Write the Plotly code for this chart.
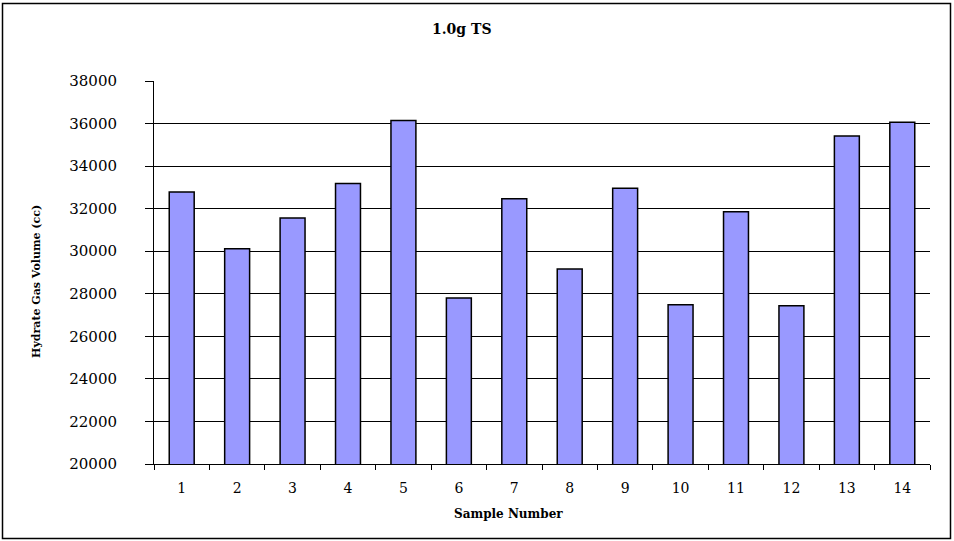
import plotly.graph_objects as go

# Hydrate gas volume per sample (1.0 g TS)
samples = [str(i) for i in range(1, 15)]
gas_volume_cc = [32780, 30120, 31560, 33180, 36140, 27800, 32470,
                 29170, 32960, 27480, 31860, 27440, 35420, 36060]
y_ticks = [20000, 22000, 24000, 26000, 28000, 30000, 32000, 34000, 36000, 38000]

SERIF = "DejaVu Serif"

fig = go.Figure(
    go.Bar(
        x=samples,
        y=gas_volume_cc,
        marker=dict(color="#9999FF", line=dict(color="black", width=1.5)),
        showlegend=False,
    )
)

fig.update_layout(
    width=954,
    height=541,
    margin=dict(l=154, r=24, t=81, b=77),
    paper_bgcolor="white",
    plot_bgcolor="white",
    bargap=0.55,
    font=dict(family=SERIF, color="black"),
    xaxis=dict(
        type="category",
        tickson="boundaries",
        ticks="outside",
        ticklen=5,
        tickcolor="black",
        showline=True,
        linecolor="black",
        linewidth=1,
        showgrid=False,
        tickfont=dict(family=SERIF, size=14),
        ticklabelstandoff=11,
        fixedrange=True,
    ),
    yaxis=dict(
        range=[20000, 38000],
        tickvals=y_ticks,
        tickformat="d",
        ticks="outside",
        ticklen=8,
        tickcolor="black",
        showline=True,
        linecolor="black",
        linewidth=1,
        showgrid=True,
        gridcolor="black",
        gridwidth=1,
        zeroline=False,
        tickfont=dict(family=SERIF, size=15),
        ticklabelstandoff=25,
        fixedrange=True,
    ),
    annotations=[
        dict(text="<b>1.0g TS</b>", x=462, y=29, showarrow=False,
             font=dict(family=SERIF, size=14)),
        dict(text="<b>Sample Number</b>", x=508, y=514, showarrow=False,
             font=dict(family=SERIF, size=12)),
        dict(text="<b>Hydrate Gas Volume (cc)</b>", x=36, y=282, textangle=-90,
             showarrow=False, font=dict(family=SERIF, size=11)),
    ],
)

# Convert pixel placements of the annotations to paper coordinates
pw = 954 - 154 - 24
ph = 541 - 81 - 77
for a in fig.layout.annotations:
    px, py = a.x, a.y
    a.xref = "paper"
    a.yref = "paper"
    a.x = (px - 154) / pw
    a.y = 1 - (py - 81) / ph
    a.xanchor = "center"
    a.yanchor = "middle"

# Outer frame around the whole chart
fig.add_shape(
    type="rect", xref="paper", yref="paper",
    x0=(2.5 - 154) / pw, x1=(950.5 - 154) / pw,
    y0=1 - (538.5 - 81) / ph, y1=1 - (3.5 - 81) / ph,
    line=dict(color="black", width=1.5), fillcolor="rgba(0,0,0,0)",
    layer="above",
)

fig.write_html("out.html")
